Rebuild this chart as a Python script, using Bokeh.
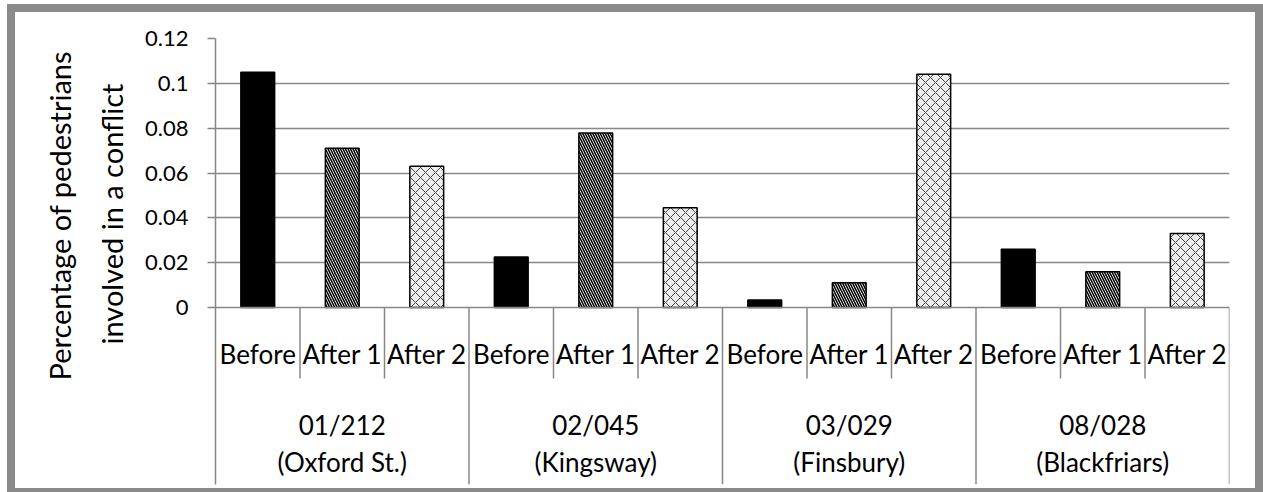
from bokeh.plotting import figure
from bokeh.models import FactorRange, Range1d, FixedTicker, Span, Title
from bokeh.core.properties import value
from bokeh.embed import file_html
from bokeh.resources import INLINE

# ---- data ----
site_codes = ["01/212", "02/045", "03/029", "08/028"]
site_names = ["(Oxford St.)", "(Kingsway)", "(Finsbury)", "(Blackfriars)"]
periods = ["Before", "After 1", "After 2"]
before = [0.105, 0.0225, 0.0033, 0.026]
after1 = [0.071, 0.0778, 0.011, 0.016]
after2 = [0.063, 0.0445, 0.104, 0.033]
y_ticks = [0, 0.02, 0.04, 0.06, 0.08, 0.1, 0.12]
y_tick_labels = ["0", "0.02", "0.04", "0.06", "0.08", "0.1", "0.12"]
y_title_lines = ["Percentage of pedestrians", "involved in a conflict"]

FONT = "Lato"
GRID = "#878787"
FRAME = "#8a8a8a"

groups = site_codes
factors = [(g, s) for g in groups for s in periods]
n_sub = len(periods)

# layout (pixels) -> the extended frame below the zero line holds the category labels
PX_PER_UNIT = 269 / 0.12
def px(d):
    return -d / PX_PER_UNIT
Y_BOTTOM = px(177)

p = figure(width=1240, height=476, output_backend="svg", toolbar_location=None,
           x_range=FactorRange(*factors, group_padding=0, factor_padding=0,
                               subgroup_padding=0, range_padding=0),
           y_range=Range1d(Y_BOTTOM, 0.12),
           x_axis_type=None, min_border_left=200, min_border_right=26,
           min_border_top=26, min_border_bottom=4)
sh = (f"-8px 0 0 0 {FRAME}, -8px 4px 0 0 {FRAME}, 8px 0 0 0 {FRAME}, 8px 4px 0 0 {FRAME}, "
      f"0 -8px 0 0 {FRAME}, -8px -8px 0 0 {FRAME}, 8px -8px 0 0 {FRAME}")
p.styles = {"position": "relative", "left": "15px", "top": "12px", "box-shadow": sh}
p.outline_line_color = None
p.background_fill_color = "white"
p.border_fill_color = "white"

# gridlines
p.ygrid.ticker = FixedTicker(ticks=y_ticks[1:])
p.ygrid.grid_line_color = GRID
p.ygrid.grid_line_width = 1.5
p.xgrid.grid_line_color = None

# zero line (category axis line)
p.add_layout(Span(location=0, dimension="width", line_color=GRID, line_width=1.5))

# bars
series = [
    (before, periods[0], dict(fill_color="black")),
    (after1, periods[1], dict(fill_color="white", hatch_pattern="\\", hatch_color="black",
                              hatch_scale=5, hatch_weight=1.5)),
    (after2, periods[2], dict(fill_color="#ededed", hatch_pattern="x", hatch_color="#444444",
                              hatch_scale=10, hatch_weight=1)),
]
for vals, per, style in series:
    xs = [(g, per) for g in groups]
    p.vbar(x=xs, top=vals, width=0.4, line_color="black", line_width=1.5, **style)

# Excel-style category dividers below the zero line
sub_edges = [i for i in range(len(factors)) if i % n_sub != 0]
group_edges = [i * n_sub for i in range(len(groups) + 1)]
p.segment(x0=sub_edges, y0=[0] * len(sub_edges), x1=sub_edges, y1=[px(71)] * len(sub_edges),
          line_color=GRID, line_width=1.5)
p.segment(x0=group_edges[1:], y0=[0] * (len(group_edges) - 1), x1=group_edges[1:],
          y1=[Y_BOTTOM] * (len(group_edges) - 1), line_color=GRID, line_width=1.5)

# category labels
p.text(x=factors, y=[px(46)] * len(factors), text=[s for g, s in factors],
       text_font=value(FONT), text_font_size="26px", text_color="black",
       text_align="center", text_baseline="middle")
group_centers = [i * n_sub + n_sub / 2 for i in range(len(groups))]
p.text(x=group_centers, y=[px(136)] * len(groups),
       text=[c + "\n" + n for c, n in zip(site_codes, site_names)],
       text_font=value(FONT), text_font_size="26px", text_color="black",
       text_align="center", text_baseline="middle", text_line_height=1.15)

# y axis
ya = p.yaxis[0]
ya.ticker = FixedTicker(ticks=y_ticks)
ya.major_label_overrides = {t: l for t, l in zip(y_ticks, y_tick_labels)}
ya.axis_line_color = GRID
ya.axis_line_width = 1.5
ya.major_tick_line_color = GRID
ya.major_tick_line_width = 1.5
ya.major_tick_out = 8
ya.major_tick_in = 0
ya.minor_tick_line_color = None
ya.major_label_standoff = 19
ya.major_label_text_font = FONT
ya.major_label_text_font_size = "22px"
ya.major_label_text_color = "black"

# y title: two lines, placed along the upper (data) part of the axis
for line, off, so in [(y_title_lines[1], 140, 27), (y_title_lines[0], 104, 4)]:
    t = Title(text=line, align="left", offset=off, standoff=so,
              text_font=FONT, text_font_size="29px", text_font_style="normal",
              text_color="black")
    p.add_layout(t, "left")

open("out.html", "w").write(file_html(p, INLINE))
